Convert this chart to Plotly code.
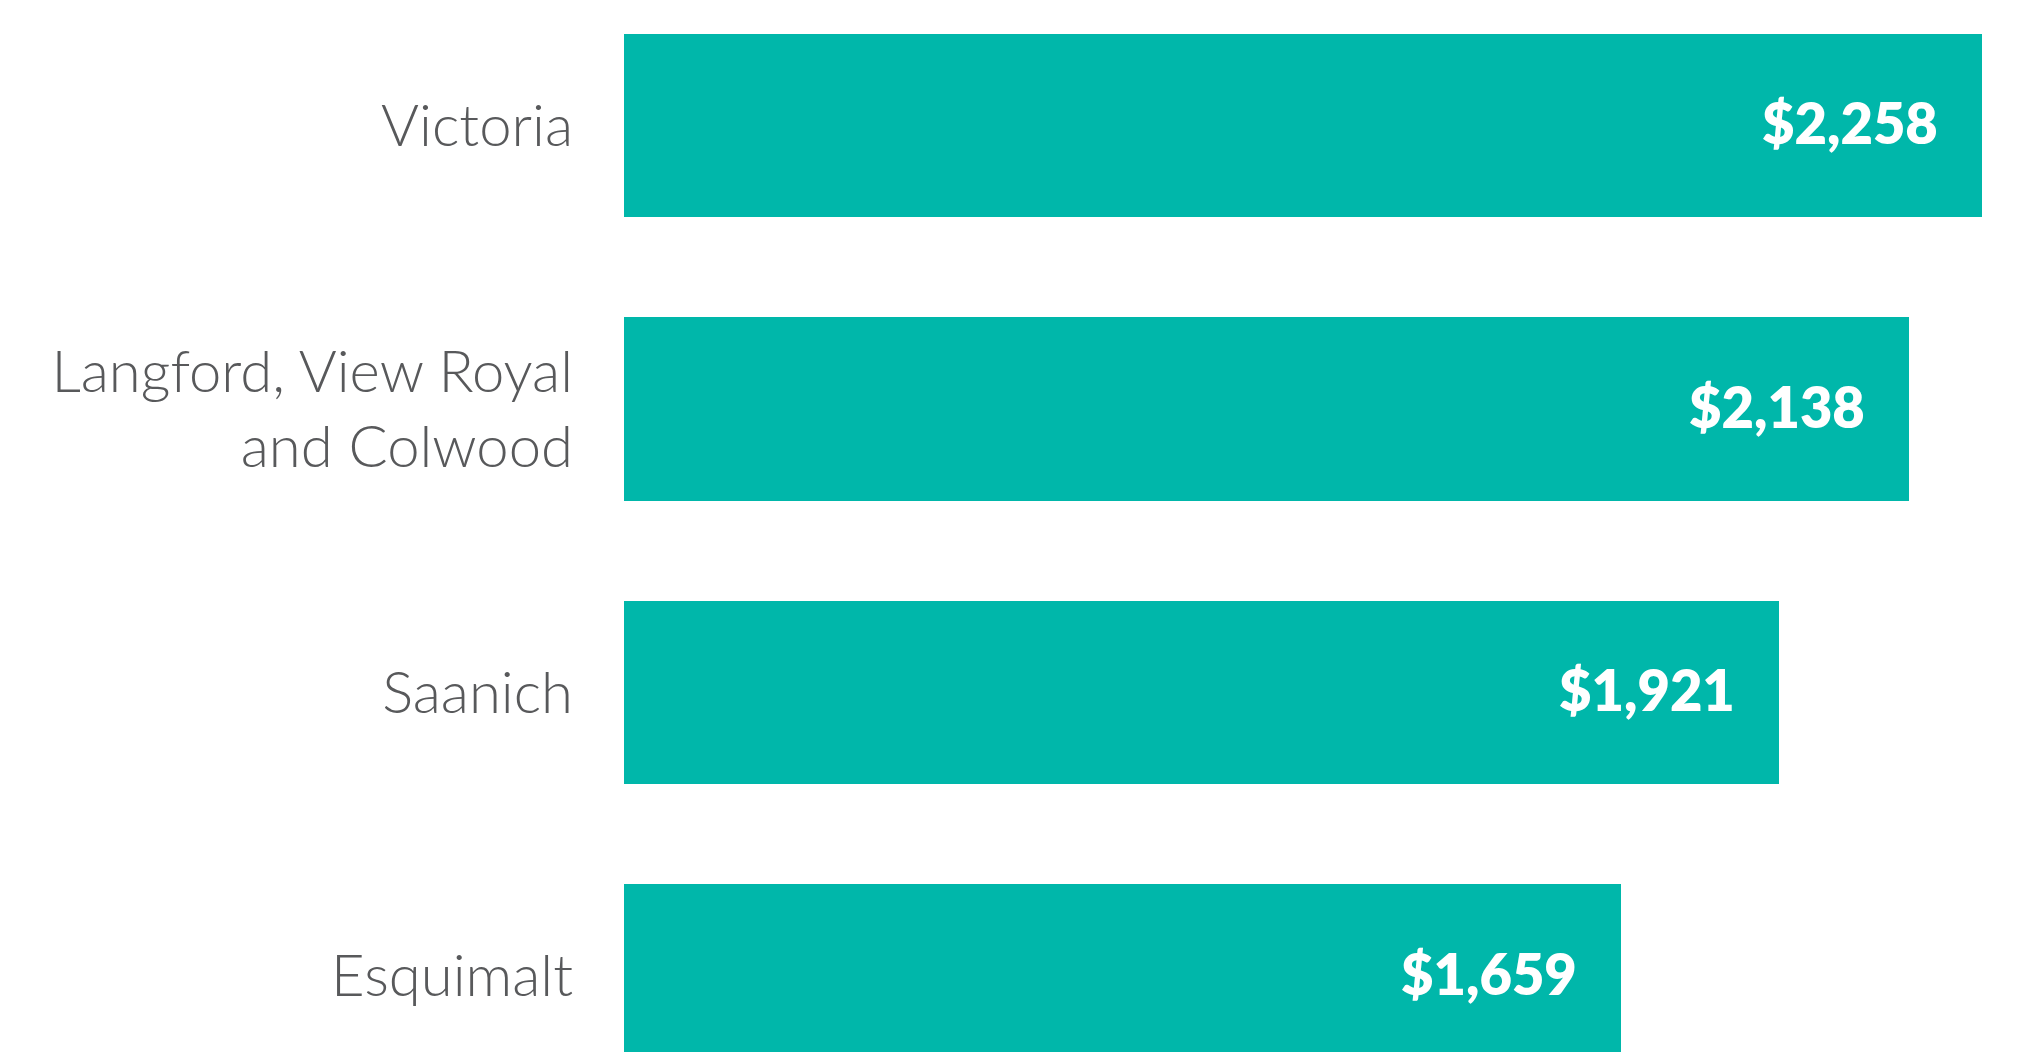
import plotly.graph_objects as go

# Data
categories = ["Victoria", "Langford, View Royal and Colwood", "Saanich", "Esquimalt"]
tick_labels = ["Victoria", "Langford, View Royal<br>and Colwood", "Saanich", "Esquimalt"]
values = [2258, 2138, 1921, 1659]
value_labels = ["$2,258", "$2,138", "$1,921", "$1,659"]

BAR_COLOR = "#00B7AA"
TEXT_COLOR = "#58595B"

fig = go.Figure()
fig.add_trace(go.Bar(
    x=values,
    y=categories,
    orientation="h",
    marker=dict(color=BAR_COLOR, line=dict(width=0)),
    width=0.647,
    hoverinfo="skip",
))

annotations = []
for c, v, t in zip(categories, values, value_labels):
    annotations.append(dict(
        x=v, y=c, xref="x", yref="y",
        text=t, showarrow=False,
        xanchor="right", yanchor="middle",
        xshift=-42, yshift=3,
        font=dict(family="Lato", size=56, color="white", weight=800),
    ))

fig.update_layout(
    width=2020, height=1052,
    margin=dict(l=624, r=0, t=0, b=0),
    paper_bgcolor="white",
    plot_bgcolor="white",
    showlegend=False,
    bargap=0,
    annotations=annotations,
    xaxis=dict(
        range=[0, 2322],
        visible=False,
        showgrid=False,
        zeroline=False,
        fixedrange=True,
    ),
    yaxis=dict(
        type="category",
        categoryorder="array",
        categoryarray=categories,
        tickvals=categories,
        ticktext=tick_labels,
        range=[3.268, -0.4427],
        showgrid=False,
        zeroline=False,
        showline=False,
        ticks="",
        ticklabelstandoff=50,
        tickfont=dict(family="Lato", size=58, color=TEXT_COLOR, weight=300),
        fixedrange=True,
    ),
)

fig.write_html("out.html", config={"displayModeBar": False})
